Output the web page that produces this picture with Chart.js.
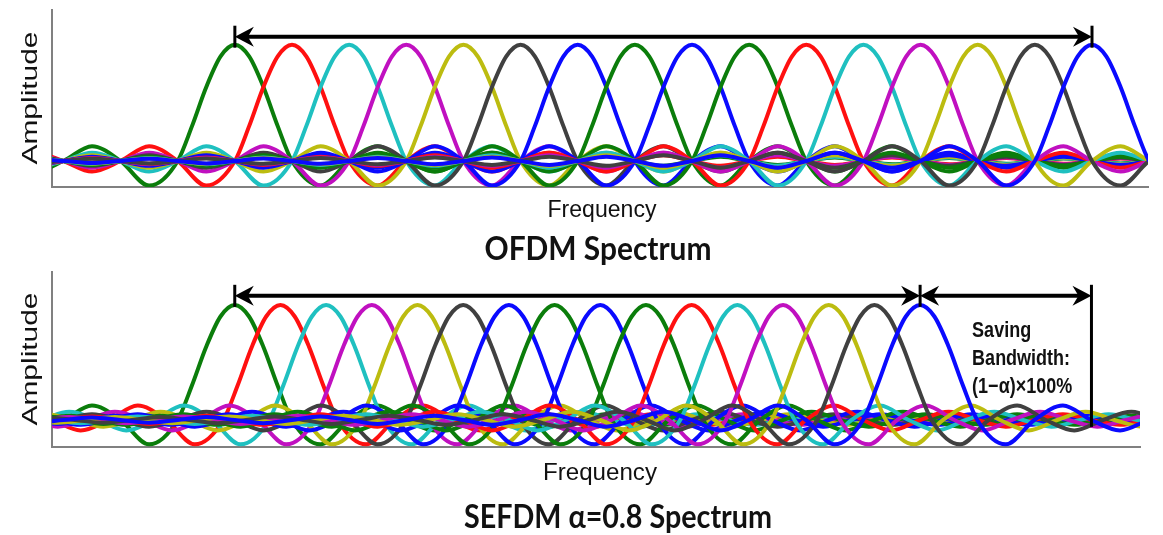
<!DOCTYPE html>
<html>
<head>
<meta charset="utf-8">
<script src="https://cdn.jsdelivr.net/npm/chart.js@4.4.1/dist/chart.umd.min.js"></script>
<style>
  html, body { margin: 0; padding: 0; background: #fff; }
  canvas { display: block; }
</style>
</head>
<body>
<canvas id="ofdmChart" width="1163" height="270"></canvas>
<canvas id="sefdmChart" width="1163" height="265"></canvas>
<script>
// one subcarrier pulse (sinc shaped), offsets in units of the OFDM carrier spacing
const pulseOffsets = [
  -19, -18.5, -18, -17.5, -17, -16.5, -16, -15.5, -15, -14.5, -14, -13.5, -13, -12.5,
  -12, -11.5, -11, -10.5, -10, -9.5, -9, -8.5, -8, -7.5, -7, -6.5, -6, -5.5, -5, -4.5,
  -4, -3.5, -3, -2.5, -2, -1.5, -1, -0.75, -0.5, -0.25, 0, 0.25, 0.5, 0.75, 1,
  1.5, 2, 2.5, 3, 3.5, 4, 4.5, 5, 5.5, 6, 6.5, 7, 7.5, 8, 8.5, 9, 9.5, 10, 10.5,
  11, 11.5, 12, 12.5, 13, 13.5, 14, 14.5, 15, 15.5, 16, 16.5, 17, 17.5, 18, 18.5, 19
];
const pulseShape = [
  0, 0.017, 0, -0.018, 0, 0.019, 0, -0.021, 0, 0.022, 0, -0.024, 0, 0.025,
  0, -0.028, 0, 0.030, 0, -0.034, 0, 0.037, 0, -0.042, 0, 0.049, 0, -0.058, 0, 0.071,
  0, -0.091, 0, 0.127, 0, -0.212, 0, 0.30, 0.637, 0.90, 1, 0.90, 0.637, 0.30, 0,
  -0.212, 0, 0.127, 0, -0.091, 0, 0.071, 0, -0.058, 0, 0.049, 0, -0.042, 0, 0.037, 0, -0.034, 0, 0.030,
  0, -0.028, 0, 0.025, 0, -0.024, 0, 0.022, 0, -0.021, 0, 0.019, 0, -0.018, 0, 0.017, 0
];

// carrier centre frequencies
const ofdmCenters = [0, 1, 2, 3, 4, 5, 6, 7, 8, 9, 10, 11, 12, 13, 14, 15];
const sefdmCenters = [0, 0.8, 1.6, 2.4, 3.2, 4, 4.8, 5.6, 6.4, 7.2, 8, 8.8, 9.6, 10.4, 11.2, 12];
const carrierColors = [
  '#0b7d0b', '#ff1010', '#1fc0c0', '#c010c0', '#bcbc10', '#404040', '#0a0aff', '#0b7d0b',
  '#0a0aff', '#0b7d0b', '#ff1010', '#1fc0c0', '#c010c0', '#bcbc10', '#404040', '#0a0aff'
];

// bandwidth markers
const ofdmSpan = [0, 15];
const sefdmSpan = [0, 12];
const savingSpan = [12, 15];
const savingLines = ['Saving', 'Bandwidth:', '(1\u2212\u03b1)\u00d7100%'];

const axisName = 'Amplitude';
const freqName = 'Frequency';
const ofdmTitle = 'OFDM Spectrum';
const sefdmTitle = 'SEFDM \u03b1=0.8 Spectrum';

function carrierSets(centers) {
  return centers.map((c, k) => ({
    data: pulseOffsets.map((o, i) => ({ x: c + o, y: pulseShape[i] })),
    borderColor: carrierColors[k],
    borderWidth: 4,
    pointRadius: 0,
    cubicInterpolationMode: 'monotone',
    fill: false,
    order: centers.length - k
  }));
}

function drawLabel(ctx, text, x, y, font, opts) {
  opts = opts || {};
  ctx.save();
  ctx.font = font;
  ctx.fillStyle = '#111';
  ctx.textAlign = opts.align || 'center';
  ctx.textBaseline = 'alphabetic';
  ctx.translate(x, y);
  if (opts.rotate) ctx.rotate(opts.rotate);
  let sx = 1;
  if (opts.width) sx = opts.width / ctx.measureText(text).width;
  ctx.scale(sx, opts.sy || 1);
  ctx.fillText(text, 0, 0);
  ctx.restore();
}

function arrowHead(ctx, x, y, dir) {
  ctx.beginPath();
  ctx.moveTo(x, y);
  ctx.lineTo(x - dir * 19, y - 10);
  ctx.lineTo(x - dir * 13, y);
  ctx.lineTo(x - dir * 19, y + 10);
  ctx.closePath();
  ctx.fill();
}

function spanArrow(ctx, x1, x2, y) {
  ctx.beginPath();
  ctx.moveTo(x1 + 10, y);
  ctx.lineTo(x2 - 10, y);
  ctx.stroke();
  arrowHead(ctx, x1, y, -1);
  arrowHead(ctx, x2, y, 1);
}

function endBar(ctx, x, y) {
  ctx.save();
  ctx.lineWidth = 3;
  ctx.beginPath();
  ctx.moveTo(x, y - 11);
  ctx.lineTo(x, y + 11);
  ctx.stroke();
  ctx.restore();
}

function baseOptions(xMin, xMax, yMin, yMax, padding) {
  const axisBorder = { display: true, color: '#808080', width: 2 };
  return {
    responsive: false,
    animation: false,
    layout: { padding: padding },
    plugins: { legend: { display: false }, tooltip: { enabled: false } },
    scales: {
      x: { type: 'linear', min: xMin, max: xMax, grid: { display: false }, ticks: { display: false }, border: axisBorder },
      y: { type: 'linear', min: yMin, max: yMax, grid: { display: false }, ticks: { display: false }, border: axisBorder }
    }
  };
}

const ofdmNotes = {
  id: 'ofdmNotes',
  afterDraw(chart) {
    const ctx = chart.ctx;
    const xs = chart.scales.x, ys = chart.scales.y;
    const y = ys.getPixelForValue(1.07);
    const x1 = xs.getPixelForValue(ofdmSpan[0]), x2 = xs.getPixelForValue(ofdmSpan[1]);
    ctx.save();
    ctx.strokeStyle = '#000';
    ctx.fillStyle = '#000';
    ctx.lineWidth = 4;
    spanArrow(ctx, x1, x2, y);
    endBar(ctx, x1, y);
    endBar(ctx, x2, y);
    ctx.restore();
    drawLabel(ctx, axisName, 37, 98, '22px "Liberation Sans"', { rotate: -Math.PI / 2, width: 133 });
    drawLabel(ctx, freqName, 602, 217, '23px "Liberation Sans"', { width: 109 });
    drawLabel(ctx, ofdmTitle, 598, 260, 'bold 30px Lato', { width: 227, sy: 1.1 });
  }
};

const sefdmNotes = {
  id: 'sefdmNotes',
  afterDraw(chart) {
    const ctx = chart.ctx;
    const xs = chart.scales.x, ys = chart.scales.y;
    const y = ys.getPixelForValue(1.08);
    const a = xs.getPixelForValue(sefdmSpan[0]);
    const b = xs.getPixelForValue(sefdmSpan[1]);
    const c = xs.getPixelForValue(savingSpan[1]);
    ctx.save();
    ctx.strokeStyle = '#000';
    ctx.fillStyle = '#000';
    ctx.lineWidth = 4;
    spanArrow(ctx, a, b, y);
    spanArrow(ctx, b, c, y);
    endBar(ctx, a, y);
    endBar(ctx, b, y);
    ctx.lineWidth = 3;
    ctx.beginPath();
    ctx.moveTo(c, y - 11);
    ctx.lineTo(c, ys.getPixelForValue(-0.06));
    ctx.stroke();
    ctx.restore();
    savingLines.forEach((t, i) => {
      drawLabel(ctx, t, b + 52, 67 + i * 28, 'bold 18px "Liberation Sans"', { align: 'left', sy: 1.2 });
    });
    drawLabel(ctx, axisName, 37, 89, '22px "Liberation Sans"', { rotate: -Math.PI / 2, width: 133 });
    drawLabel(ctx, freqName, 600, 210, '23px "Liberation Sans"', { width: 114 });
    drawLabel(ctx, sefdmTitle, 618, 258, 'bold 30px Lato', { width: 308, sy: 1.1 });
  }
};

new Chart(document.getElementById('ofdmChart'), {
  type: 'line',
  data: { datasets: carrierSets(ofdmCenters) },
  options: baseOptions(-3.2, 15.98, -0.224, 1.30, { left: 44, right: 15, top: 10, bottom: 75 }),
  plugins: [ofdmNotes]
});

new Chart(document.getElementById('sefdmChart'), {
  type: 'line',
  data: { datasets: carrierSets(sefdmCenters) },
  options: baseOptions(-3.2, 15.85, -0.235, 1.287, { left: 44, right: 23, top: 2, bottom: 80 }),
  plugins: [sefdmNotes]
});
</script>
</body>
</html>
